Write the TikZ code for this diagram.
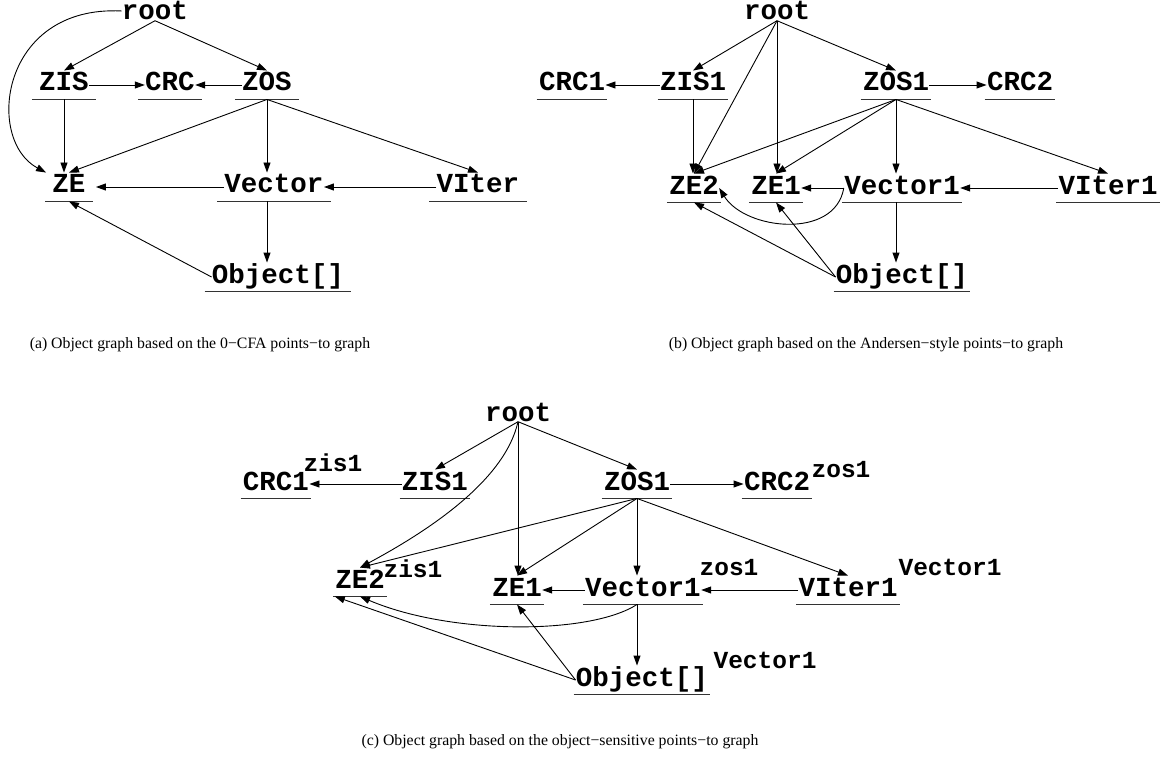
\documentclass[tikz,border=0pt]{standalone}
\usepackage{fontspec}
\setmainfont{Liberation Serif}
\newfontfamily\graphfont{Liberation Mono}
\usetikzlibrary{arrows.meta}

\begin{document}
\begin{tikzpicture}[
   x=1pt, y=-1pt, line width=0.9pt,
   >={Triangle[length=10pt,width=7pt]},
   ul ext/.store in=\ulext, ul ext=2pt,
   rootnode/.style={anchor=base, inner sep=0pt,
      font=\graphfont\bfseries\fontsize{27.5pt}{30pt}\selectfont},
   obj/.style={rootnode, text height=20pt, text depth=8pt,
      append after command={([xshift=-\ulext]\tikzlastnode.south west)
         edge[draw=black!80, line width=1.6pt]
         ([xshift=\ulext]\tikzlastnode.south east)}},  % <-- underline
   ctx/.style={anchor=base, inner sep=0pt,
      font=\graphfont\bfseries\fontsize{24.5pt}{26pt}\selectfont},
   subcap/.style={anchor=base, inner sep=0pt, font=\fontsize{15.8pt}{18pt}\selectfont}
]
\useasboundingbox (0,0) rectangle (1170,765);

% (a) 0-CFA
\begin{scope}[ul ext=7pt]
\node[rootnode] (a-root) at (155,20) {root};
\node[obj] (a-zis) at (64,91) {ZIS};
\node[obj] (a-crc) at (170,91) {CRC};
\node[obj] (a-zos) at (267,91) {ZOS};
\node[obj] (a-ze) at (69,193) {ZE};
\node[obj] (a-vec) at (274,193) {Vector};
\node[obj] (a-vit) at (478,193) {VIter};
\node[obj] (a-obj) at (278,283) {Object[]};
\end{scope}
\draw[->] (a-root.south) -- (a-zis.north);
\draw[->] (a-root.south) -- (a-zos.north);
\draw[->] (a-root.west) .. controls (0,5) and (-15,140) .. ([xshift=-6pt]a-ze.north west);
\draw[->] (a-zis.east) -- (a-crc.west);
\draw[->] (a-zos.west) -- (a-crc.east);
\draw[->] (a-zis.south) -- (a-zis.south |- a-ze.north);
\draw[->] (a-zos.south) -- (a-ze.north);
\draw[->] (a-zos.south) -- (a-zos.south |- a-vec.north);
\draw[->] (a-zos.south) -- (a-vit.north);
\draw[->] (a-vec.west) -- ([xshift=10pt]a-ze.east);
\draw[->] (a-vit.west) -- (a-vec.east);
\draw[->] (a-zos.south |- a-vec.south) -- (a-zos.south |- a-obj.north);
\draw[->] (a-obj.west) -- (a-ze.south);
\node[subcap] (a-cap) at (200,348) {(a) Object graph based on the 0−CFA points−to graph};

% (b) Andersen-style
\node[rootnode] (b-root) at (777,20) {root};
\node[obj] (b-crc1) at (572,91) {CRC1};
\node[obj] (b-zis1) at (693,91) {ZIS1};
\node[obj] (b-zos1) at (896,91) {ZOS1};
\node[obj] (b-crc2) at (1020,91) {CRC2};
\node[obj] (b-ze2) at (694,194) {ZE2};
\node[obj] (b-ze1) at (776,194) {ZE1};
\node[obj] (b-vec1) at (902,194) {Vector1};
\node[obj] (b-vit1) at (1108,194) {VIter1};
\node[obj] (b-obj) at (902,283) {Object[]};
\draw[->] (b-root.south) -- (b-zis1.north);
\draw[->] (b-root.south) -- (b-zos1.north);
\draw[->] (b-root.south) -- (b-ze2.north);
\draw[->] (b-root.south) -- (b-root.south |- b-ze1.north);
\draw[->] (b-zis1.west) -- (b-crc1.east);
\draw[->] (b-zos1.east) -- (b-crc2.west);
\draw[->] (b-zis1.south) -- (b-zis1.south |- b-ze2.north);
\draw[->] (b-zos1.south) -- (b-ze2.north);
\draw[->] (b-zos1.south) -- (b-ze1.north);
\draw[->] (b-zos1.south) -- (b-zos1.south |- b-vec1.north);
\draw[->] (b-zos1.south) -- (b-vit1.north);
\draw[->] (b-vit1.west) -- (b-vec1.east);
\draw[->] (b-vec1.west) -- (b-ze1.east);
\draw[->] (b-vec1.west) .. controls (835,240) and (745,230) .. (b-ze2.east);
\draw[->] (b-zos1.south |- b-vec1.south) -- (b-zos1.south |- b-obj.north);
\draw[->] (b-obj.west) -- (b-ze2.south);
\draw[->] (b-obj.west) -- (b-ze1.south);
\node[subcap] (b-cap) at (866,348) {(b) Object graph based on the Andersen−style points−to graph};

% (c) object-sensitive
\node[rootnode] (c-root) at (518,421) {root};
\node[obj] (c-crc1) at (276,490) {CRC1};
\node[ctx] (c-crc1-ctx) at (333,471) {zis1};
\node[obj] (c-zis1) at (435,490) {ZIS1};
\node[obj] (c-zos1) at (637,490) {ZOS1};
\node[obj] (c-crc2) at (777,490) {CRC2};
\node[ctx] (c-crc2-ctx) at (841,477) {zos1};
\node[obj] (c-ze2) at (360,588) {ZE2};
\node[ctx] (c-ze2-ctx) at (413,577) {zis1};
\node[obj] (c-ze1) at (517,596) {ZE1};
\node[obj] (c-vec1) at (643,596) {Vector1};
\node[ctx] (c-vec1-ctx) at (729,575) {zos1};
\node[obj] (c-vit1) at (848,596) {VIter1};
\node[ctx] (c-vit1-ctx) at (950,575) {Vector1};
\node[obj] (c-obj) at (642,686) {Object[]};
\node[ctx] (c-obj-ctx) at (765,668) {Vector1};
\draw[->] (c-root.south) -- (c-zis1.north);
\draw[->] (c-root.south) -- (c-zos1.north);
\draw[->] (c-root.south) .. controls (505,480) and (430,530) .. (c-ze2.north);
\draw[->] (c-root.south) -- (c-root.south |- c-ze1.north);
\draw[->] (c-zis1.west) -- (c-crc1.east);
\draw[->] (c-zos1.east) -- (c-crc2.west);
\draw[->] (c-zos1.south) -- (c-ze2.north);
\draw[->] (c-zos1.south) -- (c-ze1.north);
\draw[->] (c-zos1.south) -- (c-zos1.south |- c-vec1.north);
\draw[->] (c-zos1.south) -- (c-vit1.north);
\draw[->] (c-vit1.west) -- (c-vec1.east);
\draw[->] (c-vec1.west) -- (c-ze1.east);
\draw[->] (c-zos1.south |- c-vec1.south) -- (c-zos1.south |- c-obj.north);
\draw[->] (c-zos1.south |- c-vec1.south) .. controls (590,635) and (450,635) .. (c-ze2.south);
\draw[->] (c-obj.west) -- (c-ze2.south west);
\draw[->] (c-obj.west) -- (c-ze1.south);
\node[subcap] (c-cap) at (560,745) {(c) Object graph based on the object−sensitive points−to graph};
\end{tikzpicture}
\end{document}
